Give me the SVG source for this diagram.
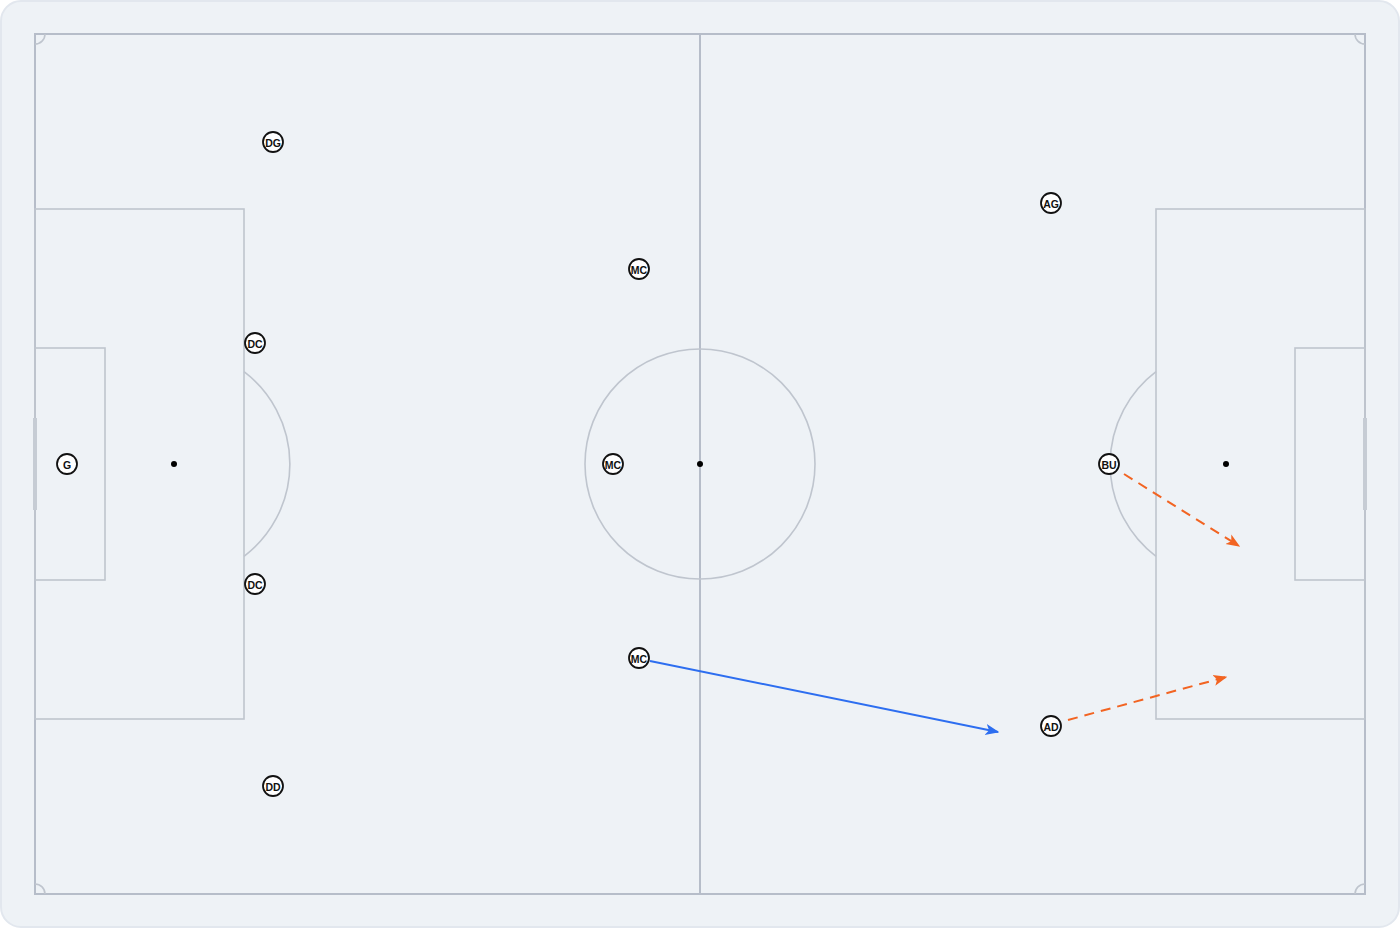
<svg xmlns="http://www.w3.org/2000/svg" width="1400" height="928" viewBox="0 0 1400 928">
<style>
.bg{fill:#eef2f6;stroke:#e2e7ee;stroke-width:2}
.ln{fill:none;stroke:#bfc5ce;stroke-width:1.6}
.out{fill:none;stroke:#b6bdc9;stroke-width:2}
.post{fill:#c6ccd4;stroke:none}
.spot{fill:#000}
.p circle{fill:#fff;stroke:#111;stroke-width:1.8}
.p text{font-family:"Liberation Sans",Arial,sans-serif;font-size:10.5px;font-weight:bold;fill:#111;text-anchor:middle;dominant-baseline:central}
.run{fill:none;stroke:#f26422;stroke-width:2;stroke-dasharray:10 7}
.pass{fill:none;stroke:#2d6ef0;stroke-width:2}
</style>
<defs>
<marker id="ao" viewBox="0 0 10 10" refX="9" refY="5" markerWidth="14" markerHeight="14" orient="auto" markerUnits="userSpaceOnUse"><path d="M0,1 L10,5 L0,9 L2.5,5 z" fill="#f26422"/></marker>
<marker id="ab" viewBox="0 0 10 10" refX="9" refY="5" markerWidth="14" markerHeight="14" orient="auto" markerUnits="userSpaceOnUse"><path d="M0,1 L10,5 L0,9 L2.5,5 z" fill="#2d6ef0"/></marker>
</defs>
<rect x="1" y="1" width="1398" height="926" rx="20" class="bg"/>
<g id="pitch">
<rect x="35" y="34" width="1330" height="860" class="out"/>
<line x1="700" y1="34" x2="700" y2="894" class="out"/>
<circle cx="700" cy="464" r="115" class="ln"/>
<circle cx="700" cy="464" r="3" class="spot"/>
<rect x="35" y="209" width="209" height="510" class="ln"/>
<rect x="35" y="348" width="70" height="232" class="ln"/>
<circle cx="174" cy="464" r="3" class="spot"/>
<path d="M244,371.6 A116,116 0 0 1 244,556.4" class="ln"/>
<rect x="1156" y="209" width="209" height="510" class="ln"/>
<rect x="1295" y="348" width="70" height="232" class="ln"/>
<circle cx="1226" cy="464" r="3" class="spot"/>
<path d="M1156,371.6 A116,116 0 0 0 1156,556.4" class="ln"/>
<rect x="33" y="418" width="4" height="92" class="post"/>
<rect x="1363" y="418" width="4" height="92" class="post"/>
<path d="M35,44 A10,10 0 0 0 45,34" class="ln"/>
<path d="M1355,34 A10,10 0 0 0 1365,44" class="ln"/>
<path d="M35,884 A10,10 0 0 1 45,894" class="ln"/>
<path d="M1355,894 A10,10 0 0 1 1365,884" class="ln"/>
</g>
<g id="connectors">
<line x1="650" y1="661" x2="998" y2="732" class="pass" marker-end="url(#ab)"/>
<line x1="1124" y1="474" x2="1239" y2="546" class="run" marker-end="url(#ao)"/>
<line x1="1068" y1="720" x2="1226" y2="677" class="run" marker-end="url(#ao)"/>
</g>
<g id="dg" class="p"><circle cx="273" cy="142" r="10"/><text x="273" y="142.5">DG</text></g>
<g id="ag" class="p"><circle cx="1051" cy="203" r="10"/><text x="1051" y="203.5">AG</text></g>
<g id="mc1" class="p"><circle cx="639" cy="269" r="10"/><text x="639" y="269.5">MC</text></g>
<g id="dc1" class="p"><circle cx="255" cy="343" r="10"/><text x="255" y="343.5">DC</text></g>
<g id="g" class="p"><circle cx="67" cy="464" r="10"/><text x="67" y="464.5">G</text></g>
<g id="mc2" class="p"><circle cx="613" cy="464" r="10"/><text x="613" y="464.5">MC</text></g>
<g id="bu" class="p"><circle cx="1109" cy="464" r="10"/><text x="1109" y="464.5">BU</text></g>
<g id="dc2" class="p"><circle cx="255" cy="584" r="10"/><text x="255" y="584.5">DC</text></g>
<g id="mc3" class="p"><circle cx="639" cy="658" r="10"/><text x="639" y="658.5">MC</text></g>
<g id="ad" class="p"><circle cx="1051" cy="726" r="10"/><text x="1051" y="726.5">AD</text></g>
<g id="dd" class="p"><circle cx="273" cy="786" r="10"/><text x="273" y="786.5">DD</text></g>
</svg>
